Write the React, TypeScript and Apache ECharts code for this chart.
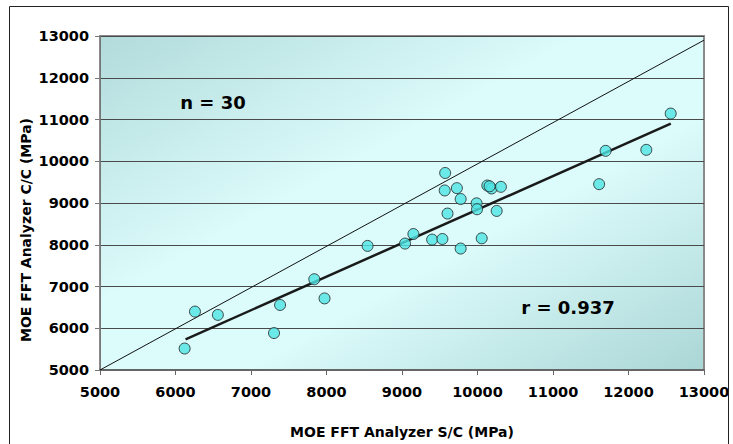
import React, { useEffect, useRef } from "react";
import * as echarts from "echarts";

const xTicksMin = 5000;
const xTicksMax = 13000;
const tickInterval = 1000;

// MOE FFT Analyzer S/C (x) vs C/C (y), MPa
const sc = [
  6121, 6258, 6561, 7305, 7385, 7838, 7974, 8544, 9040, 9151,
  9399, 9535, 9572, 9566, 9727, 9777, 9603, 9777, 9988, 9994,
  10056, 10130, 10186, 10310, 10254, 11611, 11697, 12236, 12559, 10160,
];
const cc = [
  5514, 6399, 6320, 5885, 6557, 7174, 6715, 7972, 8028, 8257,
  8123, 8138, 9719, 9300, 9356, 9095, 8747, 7909, 8992, 8850,
  8154, 9419, 9348, 9387, 8810, 9451, 10249, 10273, 11142, 9400,
];

const regressionX = [6133, 12560];
const regressionY = [5735, 10900];
const identityX = [5000, 13000];
const identityY = [5000, 12900];

const nLabel = "n = 30";
const rLabel = "r = 0.937";
const xTitle = "MOE FFT Analyzer S/C (MPa)";
const yTitle = "MOE FFT Analyzer C/C (MPa)";

const FONT = "'DejaVu Sans', Verdana, sans-serif";

export default function App() {
  const ref = useRef<HTMLDivElement>(null);
  useEffect(() => {
    if (!ref.current) return;
    const chart = echarts.init(ref.current, undefined, { renderer: "svg" });
    const points = sc.map((x, i) => [x, cc[i]]);
    const fmt = (v: number) => String(v);
    chart.setOption({
      animation: false,
      backgroundColor: "#ffffff",
      textStyle: { fontFamily: FONT },
      grid: {
        left: 100,
        right: 29,
        top: 36,
        bottom: 74,
        show: true,
        borderColor: "#8a8a8a",
        borderWidth: 2,
        backgroundColor: new echarts.graphic.LinearGradient(0, 0, 1, 1, [
          { offset: 0, color: "#b2dbdb" },
          { offset: 0.4, color: "#dcfbfb" },
          { offset: 0.62, color: "#dcfbfb" },
          { offset: 1, color: "#abd6d6" },
        ]),
      },
      xAxis: {
        type: "value",
        min: xTicksMin,
        max: xTicksMax,
        interval: tickInterval,
        axisLine: { show: true, lineStyle: { color: "#666", width: 2 } },
        axisTick: { show: true, inside: false, length: 5, lineStyle: { color: "#666" } },
        axisLabel: {
          color: "#000",
          fontWeight: "bold",
          fontSize: 14.5,
          fontFamily: FONT,
          margin: 14,
          formatter: fmt,
        },
        splitLine: { show: false },
      },
      yAxis: {
        type: "value",
        min: xTicksMin,
        max: xTicksMax,
        interval: tickInterval,
        axisLine: { show: true, lineStyle: { color: "#777", width: 1 } },
        axisTick: { show: true, inside: false, length: 5, lineStyle: { color: "#777" } },
        axisLabel: {
          color: "#000",
          fontWeight: "bold",
          fontSize: 14.5,
          fontFamily: FONT,
          margin: 11,
          formatter: fmt,
        },
        splitLine: { show: true, lineStyle: { color: "#4a4a4a", width: 1 } },
      },
      series: [
        {
          type: "line",
          data: identityX.map((x, i) => [x, identityY[i]]),
          showSymbol: false,
          symbol: "none",
          lineStyle: { color: "#111", width: 1 },
          z: 3,
          silent: true,
        },
        {
          type: "line",
          data: regressionX.map((x, i) => [x, regressionY[i]]),
          showSymbol: false,
          symbol: "none",
          lineStyle: { color: "#1a1a1a", width: 2.5 },
          z: 3,
          silent: true,
        },
        {
          type: "scatter",
          data: points,
          symbol: "circle",
          symbolSize: 11,
          itemStyle: { color: "#4fe3e3", borderColor: "#222", borderWidth: 1 },
          z: 4,
        },
      ],
      graphic: [
        {
          type: "rect",
          shape: { x: 9.5, y: 6.5, width: 719, height: 445 },
          style: { fill: "none", stroke: "#222", lineWidth: 1 },
          silent: true,
          z: 100,
        },
        {
          type: "text",
          x: 402,
          y: 432,
          style: {
            text: xTitle,
            fill: "#000",
            font: `bold 14px ${FONT}`,
            textAlign: "center",
            textVerticalAlign: "middle",
          },
        },
        {
          type: "text",
          x: 26,
          y: 230,
          rotation: Math.PI / 2,
          style: {
            text: yTitle,
            fill: "#000",
            font: `bold 14px ${FONT}`,
            textAlign: "center",
            textVerticalAlign: "middle",
          },
        },
        {
          type: "text",
          x: 213,
          y: 102,
          style: {
            text: nLabel,
            fill: "#000",
            font: `bold 18px ${FONT}`,
            textAlign: "center",
            textVerticalAlign: "middle",
          },
          z: 10,
        },
        {
          type: "text",
          x: 568,
          y: 307,
          style: {
            text: rLabel,
            fill: "#000",
            font: `bold 18px ${FONT}`,
            textAlign: "center",
            textVerticalAlign: "middle",
          },
          z: 10,
        },
      ],
    });
    return () => chart.dispose();
  }, []);
  return (
    <div
      ref={ref}
      style={{ position: "fixed", left: 0, top: 0, width: 733, height: 444 }}
    />
  );
}
